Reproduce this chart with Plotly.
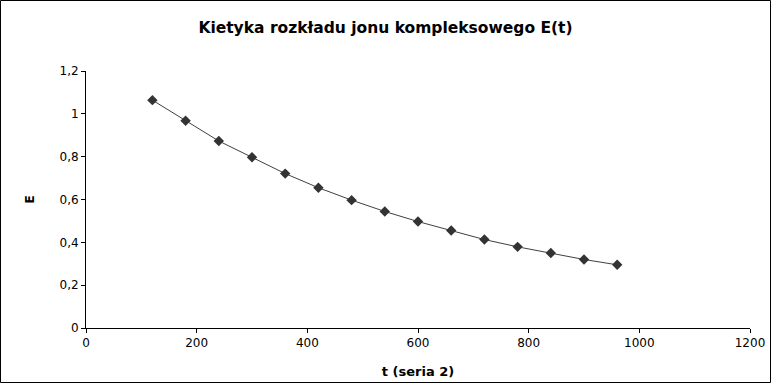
import plotly.graph_objects as go

t_values = [120, 180, 240, 300, 360, 420, 480, 540, 600, 660, 720, 780, 840, 900, 960]
E_values = [1.064, 0.968, 0.873, 0.797, 0.721, 0.655, 0.597, 0.544, 0.497, 0.455,
            0.413, 0.379, 0.350, 0.320, 0.295]

title_text = "Kietyka rozkładu jonu kompleksowego E(t)"
x_title = "t (seria 2)"
y_title = "E"

W, H = 771, 384
ml, mr, mt, mb = 86, 21, 71, 56
pw, ph = W - ml - mr, H - mt - mb

fig = go.Figure()
fig.add_trace(go.Scatter(
    x=t_values, y=E_values, mode="lines+markers",
    line=dict(color="#404040", width=1),
    marker=dict(symbol="diamond", size=8, color="#333333"),
    showlegend=False,
))

font = "DejaVu Sans, Verdana, sans-serif"
fig.update_layout(
    width=W, height=H,
    margin=dict(l=ml, r=mr, t=mt, b=mb, autoexpand=False),
    paper_bgcolor="white", plot_bgcolor="white",
    separators=", ",
    font=dict(family=font, size=12, color="black"),
    title=dict(text=title_text, x=0.5, xanchor="center", xref="container",
               y=1 - 28 / H, yanchor="middle",
               font=dict(family=font, size=15.5, color="black", weight="bold")),
    xaxis=dict(range=[0, 1200], tickvals=[0, 200, 400, 600, 800, 1000, 1200],
               automargin=False,
               showgrid=False, zeroline=False, showline=True, linecolor="black", linewidth=1,
               ticks="outside", ticklen=4, tickcolor="black",
               title=dict(text=x_title, standoff=17,
                          font=dict(family=font, size=13, color="black", weight="bold"))),
    yaxis=dict(range=[0, 1.2], tickvals=[0, 0.2, 0.4, 0.6, 0.8, 1.0, 1.2],
               automargin=False,
               showgrid=False, zeroline=False, showline=True, linecolor="black", linewidth=1,
               ticks="outside", ticklen=4, tickcolor="black",
               title=dict(text=y_title, standoff=22,
                          font=dict(family=font, size=12, color="black", weight="bold"))),
)

fig.add_shape(type="rect", xref="paper", yref="paper",
              x0=(0.5 - ml) / pw, x1=(W - 0.5 - ml) / pw,
              y0=-(mb - 1.5) / ph, y1=1 + (mt - 0.5) / ph,
              line=dict(color="black", width=1), fillcolor="rgba(0,0,0,0)")

fig.write_html("out.html", config={"displayModeBar": False},
               post_script="document.body.style.margin='0';document.body.style.overflow='hidden';")
